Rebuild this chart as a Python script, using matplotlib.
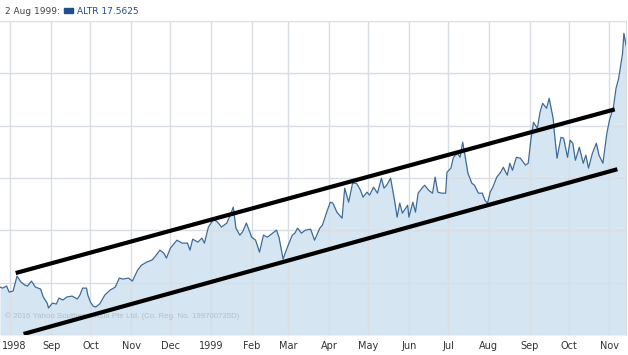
import numpy as np
import pandas as pd
import matplotlib
matplotlib.use("Agg")
import matplotlib.pyplot as plt
import matplotlib.transforms as mtransforms

# ALTR daily close (days counted from the first point)
start = pd.Timestamp("1998-07-24")
days = [0, 2, 5, 7, 10, 13, 16, 19, 21, 24, 27, 31, 33, 36, 37, 40, 43, 45, 48, 51,
        55, 59, 61, 63, 66, 67, 69, 71, 73, 76, 80, 84, 88, 91, 94, 98, 101, 105, 108, 112,
        116, 118, 122, 125, 127, 130, 135, 139, 143, 145, 147, 151, 154, 156, 159, 163, 166, 169, 173, 175,
        178, 180, 183, 185, 188, 192, 195, 198, 201, 204, 208, 211, 213, 216, 219, 223, 225, 227, 230, 233,
        237, 240, 244, 246, 249, 252, 254, 257, 261, 263, 266, 269, 272, 275, 277, 280, 282, 285, 288, 291,
        293, 295, 298, 301, 303, 305, 307, 311, 312, 315, 317, 319, 322, 324, 327, 330, 332, 334, 337, 340,
        341, 344, 346, 349, 351, 353, 355, 357, 360, 362, 365, 368, 370, 372, 374, 376, 379, 382, 384, 387,
        389, 391, 394, 397, 401, 403, 405, 407, 410, 412, 414, 417, 419, 422, 423, 425, 428, 430, 433, 435,
        437, 439, 442, 445, 447, 449, 452, 455, 457, 460, 463, 465, 468, 470, 472, 475, 476, 478]
price = [9.58, 9.48, 9.68, 9.10, 9.20, 10.63, 10.06, 9.77, 9.68, 10.15, 9.58, 9.39, 8.63, 8.05, 7.58, 8.05, 7.96, 8.53, 8.34, 8.63,
         8.72, 8.44, 8.82, 9.48, 9.48, 8.82, 8.15, 7.77, 7.67, 7.96, 8.82, 9.29, 9.58, 10.44, 10.34, 10.44, 10.15, 11.20, 11.68, 11.97,
         12.16, 12.44, 13.11, 12.82, 12.35, 13.30, 14.06, 13.78, 13.78, 13.11, 14.16, 13.87, 14.26, 13.78, 15.31, 16.07, 15.78, 15.31, 15.69, 16.26,
         17.21, 15.21, 14.54, 14.83, 15.69, 14.35, 14.06, 12.92, 14.54, 14.35, 14.73, 15.02, 14.26, 12.25, 13.30, 14.54, 14.73, 15.21, 14.73, 15.02,
         15.11, 14.06, 15.21, 15.50, 16.64, 17.69, 17.60, 16.74, 16.16, 19.03, 17.69, 19.50, 19.50, 18.84, 18.17, 18.65, 18.36, 19.12, 18.55, 19.98,
         19.03, 19.31, 19.98, 17.88, 16.26, 17.60, 16.64, 17.40, 16.26, 17.69, 16.74, 18.55, 19.03, 19.31, 18.84, 18.55, 20.08, 18.65, 18.55, 18.55,
         20.55, 20.94, 21.98, 22.37, 21.98, 23.42, 21.98, 20.46, 19.50, 19.31, 18.55, 18.55, 17.88, 17.60, 18.65, 19.12, 20.08, 20.55, 21.03, 20.27,
         21.41, 20.74, 21.98, 21.89, 21.22, 21.41, 23.61, 25.32, 24.75, 26.28, 27.14, 26.66, 27.61, 25.71, 24.27, 21.89, 23.89, 23.80, 21.98, 23.61,
         23.32, 21.70, 22.94, 21.41, 22.18, 20.94, 22.37, 23.32, 22.18, 21.41, 24.27, 25.52, 26.76, 28.57, 29.52, 31.91, 33.82, 32.48]

# hand-drawn channel lines (start/end)
upper_days = [12, 469]
upper_price = [10.92, 26.56]
lower_days = [18, 471]
lower_price = [5.10, 20.84]

month_starts = pd.date_range("1998-08-01", "1999-11-01", freq="MS")
month_labels = ["1998", "Sep", "Oct", "Nov", "Dec", "1999", "Feb", "Mar",
                "Apr", "May", "Jun", "Jul", "Aug", "Sep", "Oct", "Nov"]
y_grid = [5, 10, 15, 20, 25, 30, 35]

dates = start + pd.to_timedelta(days, unit="D")
up_dates = start + pd.to_timedelta(upper_days, unit="D")
lo_dates = start + pd.to_timedelta(lower_days, unit="D")

fig = plt.figure(figsize=(6.28, 3.55), dpi=100)
ax = fig.add_axes([0.0, 0.0563, 0.9968, 0.8845])

ax.fill_between(dates, price, 5, color="#d5e5f1", lw=0, zorder=1)
ax.plot(dates, price, color="#3d6b99", lw=0.9, zorder=3)
ax.plot(up_dates, upper_price, color="black", lw=3.0, solid_capstyle="butt", zorder=5)
ax.plot(lo_dates, lower_price, color="black", lw=3.0, solid_capstyle="butt", zorder=5)

ax.set_xlim(start, start + pd.Timedelta(days=477.6))
ax.set_ylim(5, 35)
ax.set_xticks(month_starts)
ax.set_xticklabels(month_labels, fontsize=7, color="#333333",
                   family=["Liberation Sans Narrow", "DejaVu Sans"])
ax.set_yticks(y_grid)
ax.set_yticklabels([])
ax.tick_params(axis="both", length=0, pad=4)
ax.grid(True, color="#d9dee5", lw=1, zorder=2)
ax.set_axisbelow(False)
for s in ["left", "top", "bottom"]:
    ax.spines[s].set_visible(False)
ax.spines["right"].set_color("#d9dee5")

# keep the first month label inside the figure
first = ax.get_xticklabels()[0]
first.set_transform(first.get_transform() + mtransforms.ScaledTranslation(3 / 72, 0, fig.dpi_scale_trans))

ax.text(0.008, 0.055, "\u00a9 2016 Yahoo Southeast Asia Pte Ltd. (Co. Reg. No. 199700735D)",
        transform=ax.transAxes, fontsize=5.7, color="#b0c0d0", zorder=4,
        family="Liberation Sans")

# header
fig.text(5 / 628, 1 - 11 / 355, "2 Aug 1999:", fontsize=6.5, color="#444444",
         va="center", family="DejaVu Sans")
fig.patches.append(plt.Rectangle((64 / 628, 1 - 13 / 355), 9 / 628, 5 / 355,
                                 transform=fig.transFigure, color="#1f4e8c"))
fig.text(77 / 628, 1 - 11 / 355, "ALTR 17.5625", fontsize=6.5, color="#1f4e8c",
         va="center", family="DejaVu Sans")

fig.savefig("out.png", dpi=100)
